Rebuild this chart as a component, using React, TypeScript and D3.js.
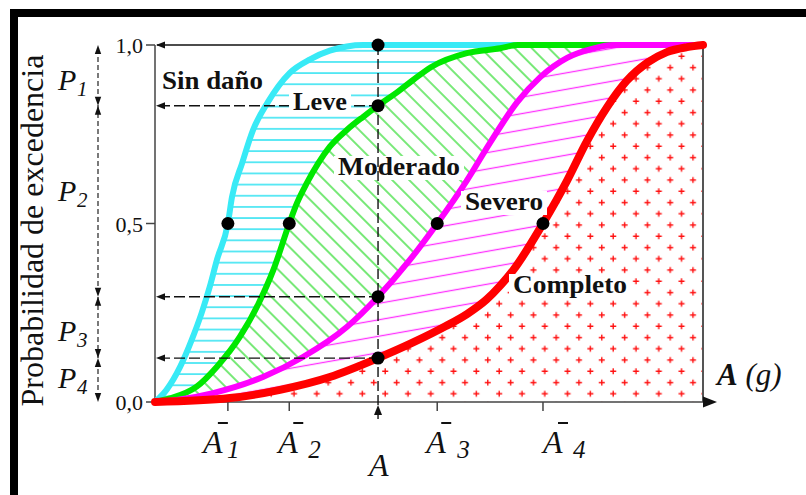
import * as d3 from "d3";

const W = 806;
const H = 495;
const plot = { left: 155, right: 703, top: 45, bottom: 402 };

const damageStates = ["Sin daño", "Leve", "Moderado", "Severo", "Completo"];
const curveColors = ["#38eaf6", "#00e800", "#ff00ff", "#ff0000"];
const hatchColors = ["#20e0f0", "#30dd30", "#ff30ff", "#ff1010"];

// fragility curves: [A on a 0..100 axis, P(exceedance)]
const leveCurve: [number, number][] = [
  [0, 0], [2.1, 0.034], [4.6, 0.099], [6.7, 0.174], [8.5, 0.249], [10.0, 0.323],
  [11.3, 0.398], [13.3, 0.5], [14.05, 0.574], [15.9, 0.669], [17.9, 0.762],
  [20.6, 0.84], [24.6, 0.922], [28.3, 0.96], [31.9, 0.984], [35, 0.996], [38, 1], [100, 1],
];
const moderadoCurve: [number, number][] = [
  [0, 0], [2.7, 0.01], [7.6, 0.043], [11.3, 0.099], [15.5, 0.183], [18.9, 0.276],
  [21.6, 0.37], [24.5, 0.5], [25.9, 0.557], [27.7, 0.613], [29.8, 0.669],
  [31.9, 0.715], [35.0, 0.762], [38.0, 0.799], [40.7, 0.83], [44.4, 0.87],
  [47.1, 0.902], [50.5, 0.939], [56.9, 0.977], [63, 0.991], [66.2, 1], [100, 1],
];
const severoCurve: [number, number][] = [
  [0, 0], [4, 0.006], [10.6, 0.025], [19.7, 0.07], [27.0, 0.126], [35.0, 0.21],
  [40.7, 0.295], [46.5, 0.398], [51.5, 0.5], [56.9, 0.62], [61.1, 0.725],
  [66.1, 0.84], [70.3, 0.91], [75.2, 0.964], [79.9, 0.99], [83.6, 1], [100, 1],
];
const completoCurve: [number, number][] = [
  [0, 0], [13.7, 0.011], [22.8, 0.034], [31.9, 0.07], [40.7, 0.123], [47, 0.166],
  [53, 0.212], [57, 0.247], [60.5, 0.287], [63, 0.326], [65.4, 0.37], [70.8, 0.5],
  [75.2, 0.62], [78.8, 0.73], [82.5, 0.826], [86.1, 0.9], [89.8, 0.95], [93.4, 0.98],
  [97.1, 0.994], [100, 1],
];
const curves = [leveCurve, moderadoCurve, severoCurve, completoCurve];

// mean values Ā1..Ā4 and the demand A (same axis units)
const meanSubscripts = ["1", "2", "3", "4"];
const meanValues = [13.3, 24.5, 51.5, 70.8];
const demandValue = 40.7;
// exceedance probabilities of each curve at A
const probAtDemand = [1.0, 0.83, 0.295, 0.123];

const yTicks = [0, 0.5, 1];
const yTickLabels = ["0,0", "0,5", "1,0"];
const pSubscripts = ["1", "2", "3", "4"];

// layout of the annotations (pixels)
const stateLabelPos = [
  { x: 162, y: 89, w: 101, bg: false },
  { x: 293, y: 110, w: 54, bg: true },
  { x: 338, y: 175, w: 122, bg: true },
  { x: 465, y: 210, w: 78, bg: true },
  { x: 513, y: 293, w: 114, bg: true },
];
const meanLabelDx = [-25, -11, -11, 0];
const meanSubDx = [24, 30, 31, 30];
const pLabelDy = [15, 0, 14, 8];

const serif = "'Liberation Serif', 'Times New Roman', serif";

function arrow(x: number, y: number, dir: "left" | "up" | "down" | "right", len = 9, half = 3.5) {
  if (dir === "left") return `M${x},${y}L${x + len},${y - half}L${x + len},${y + half}Z`;
  if (dir === "right") return `M${x},${y}L${x - len},${y - half}L${x - len},${y + half}Z`;
  if (dir === "up") return `M${x},${y}L${x - half},${y + len}L${x + half},${y + len}Z`;
  return `M${x},${y}L${x - half},${y - len}L${x + half},${y - len}Z`;
}

export default function App() {
  const x = d3.scaleLinear().domain([0, 100]).range([plot.left, plot.right]);
  const y = d3.scaleLinear().domain([0, 1]).range([plot.bottom, plot.top]);

  const line = d3
    .line<[number, number]>()
    .x((d) => x(d[0]))
    .y((d) => y(d[1]))
    .curve(d3.curveMonotoneX);
  const area = d3
    .area<[number, number]>()
    .x((d) => x(d[0]))
    .y0(y(0))
    .y1((d) => y(d[1]))
    .curve(d3.curveMonotoneX);

  const xA = x(demandValue);
  const bounds = [...probAtDemand, 0];
  const bracketX = 98;

  return (
    <svg
      width={W}
      height={H}
      viewBox={`0 0 ${W} ${H}`}
      style={{ position: "absolute", left: 0, top: 0, background: "#fff" }}
    >
      <defs>
        <pattern id="hatch0" patternUnits="userSpaceOnUse" width={8} height={11.15} y={plot.bottom}>
          <rect width={8} height={11.15} fill="#fff" />
          <line x1={0} x2={8} y1={5.6} y2={5.6} stroke={hatchColors[0]} strokeWidth={1.4} />
        </pattern>
        <pattern id="hatch1" patternUnits="userSpaceOnUse" width={12} height={12} patternTransform="rotate(-45)">
          <rect width={12} height={12} fill="#fff" />
          <line x1={6} x2={6} y1={0} y2={12} stroke={hatchColors[1]} strokeWidth={1.3} />
        </pattern>
        <pattern id="hatch2" patternUnits="userSpaceOnUse" width={30} height={16.2} patternTransform="rotate(-10)">
          <rect width={30} height={16.2} fill="#fff" />
          <line x1={0} x2={30} y1={8.1} y2={8.1} stroke={hatchColors[2]} strokeWidth={1.3} />
        </pattern>
        <pattern id="hatch3" patternUnits="userSpaceOnUse" width={22.8} height={22.5} x={687.3} y={219.4}>
          <rect width={22.8} height={22.5} fill="#fff" />
          <path
            d="M2.7,5.6H8.7M5.7,2.6V8.6M14.1,16.9H20.1M17.1,13.9V19.9"
            stroke={hatchColors[3]}
            strokeWidth={1.4}
          />
        </pattern>
      </defs>

      {/* frame */}
      <rect x={14} y={13} width={1000} height={1000} fill="none" stroke="#000" strokeWidth={8} />

      {/* hatched damage zones */}
      {curves.map((c, i) => (
        <path key={i} d={area(c) ?? ""} fill={`url(#hatch${i})`} />
      ))}

      {/* axes */}
      <line x1={plot.left} x2={plot.left} y1={plot.top} y2={plot.bottom} stroke="#444" strokeWidth={1.5} />
      <line x1={plot.right} x2={plot.right} y1={plot.top} y2={plot.bottom} stroke="#555" strokeWidth={2} />
      <line x1={plot.left} x2={plot.right + 4} y1={plot.bottom} y2={plot.bottom} stroke="#444" strokeWidth={1.5} />
      <path d={arrow(plot.right + 14, plot.bottom, "right", 14, 5.5)} fill="#111" />
      {yTicks.map((t, i) => (
        <g key={t}>
          <line x1={plot.left - 9} x2={plot.left} y1={y(t)} y2={y(t)} stroke="#444" strokeWidth={1.5} />
          <text
            x={plot.left - 12}
            y={y(t) + 8}
            textAnchor="end"
            fontFamily={serif}
            fontSize={22}
            fill="#111"
          >
            {yTickLabels[i]}
          </text>
        </g>
      ))}
      {meanValues.map((v) => (
        <line key={v} x1={x(v)} x2={x(v)} y1={plot.bottom} y2={plot.bottom + 9} stroke="#444" strokeWidth={1.5} />
      ))}

      {/* P = 1 reference line */}
      <line x1={plot.left + 2} x2={xA} y1={y(1)} y2={y(1)} stroke="#111" strokeWidth={1.4} />
      <path d={arrow(plot.left + 1, y(1), "left")} fill="#111" />

      {/* fragility curves */}
      {curves.map((c, i) => (
        <path
          key={i}
          d={line(c) ?? ""}
          fill="none"
          stroke={curveColors[i]}
          strokeWidth={i === 3 ? 8 : 6}
          strokeLinecap="round"
          strokeLinejoin="round"
        />
      ))}

      {/* dashed read-offs at A */}
      {probAtDemand.slice(1).map((p) => (
        <g key={p}>
          <line
            x1={plot.left + 4}
            x2={xA}
            y1={y(p)}
            y2={y(p)}
            stroke="#111"
            strokeWidth={1.4}
            strokeDasharray="11,4"
          />
          <path d={arrow(plot.left + 1, y(p), "left")} fill="#111" />
        </g>
      ))}

      {/* label backgrounds */}
      {stateLabelPos.map((l, i) =>
        l.bg ? <rect key={i} x={l.x - 4} y={l.y - 19} width={l.w + 8} height={24} fill="#fff" /> : null
      )}

      <line
        x1={xA}
        x2={xA}
        y1={y(1)}
        y2={plot.bottom + 20}
        stroke="#111"
        strokeWidth={1.4}
        strokeDasharray="10,4"
      />
      <path d={arrow(xA, plot.bottom + 3, "up", 10, 4)} fill="#111" />

      {damageStates.map((s, i) => (
        <text
          key={s}
          x={stateLabelPos[i].x}
          y={stateLabelPos[i].y}
          fontFamily={serif}
          fontWeight="bold"
          fontSize={25}
          textLength={stateLabelPos[i].w}
          lengthAdjust="spacingAndGlyphs"
          fill="#111"
        >
          {s}
        </text>
      ))}

      {/* points */}
      {meanValues.map((v, i) => (
        <circle key={`m${i}`} cx={x(v)} cy={y(0.5)} r={6.5} fill="#000" />
      ))}
      {probAtDemand.map((p, i) => (
        <circle key={`a${i}`} cx={xA} cy={y(p)} r={6.5} fill="#000" />
      ))}

      {/* x labels */}
      {meanValues.map((v, i) => {
        const left = x(v) + meanLabelDx[i];
        return (
          <g key={`ml${i}`}>
            <line x1={left + 15} x2={left + 25} y1={423} y2={423} stroke="#111" strokeWidth={2} />
            <text x={left} y={453} fontFamily={serif} fontStyle="italic" fontSize={32} fill="#111">
              A
              <tspan x={left + meanSubDx[i]} dy={5} fontSize={25}>
                {meanSubscripts[i]}
              </tspan>
            </text>
          </g>
        );
      })}
      <text x={xA - 9} y={476} fontFamily={serif} fontStyle="italic" fontSize={32} fill="#111">
        A
      </text>
      <text x={plot.right + 14} y={385} fontFamily={serif} fontStyle="italic" fontSize={31} fill="#111">
        <tspan fontWeight="bold">A</tspan> (g)
      </text>

      {/* y title */}
      <text
        transform={`translate(43,${(plot.top + plot.bottom) / 2 + 7}) rotate(-90)`}
        textAnchor="middle"
        fontFamily={serif}
        fontSize={32}
        fill="#111"
      >
        Probabilidad de excedencia
      </text>

      {/* P bracket */}
      <line
        x1={bracketX}
        x2={bracketX}
        y1={y(1) + 4}
        y2={y(0) - 4}
        stroke="#222"
        strokeWidth={1.2}
        strokeDasharray="5,3"
      />
      <path d={arrow(bracketX, y(1), "up", 9, 3.2)} fill="#111" />
      <path d={arrow(bracketX, y(0), "down", 9, 3.2)} fill="#111" />
      {bounds.slice(1, -1).map((p) => (
        <g key={`b${p}`}>
          <path d={arrow(bracketX, y(p), "down", 9, 3.2)} fill="#111" />
          <path d={arrow(bracketX, y(p), "up", 9, 3.2)} fill="#111" />
        </g>
      ))}
      {pSubscripts.map((s, i) => {
        const cy = (y(bounds[i]) + y(bounds[i + 1])) / 2 + pLabelDy[i];
        return (
          <text key={`p${i}`} x={58} y={cy} fontFamily={serif} fontStyle="italic" fontSize={30} fill="#111">
            P
            <tspan x={77} dy={6} fontSize={21}>
              {s}
            </tspan>
          </text>
        );
      })}
    </svg>
  );
}
